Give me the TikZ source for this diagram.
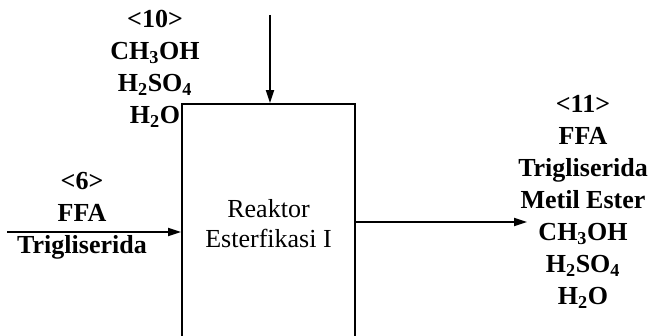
\documentclass[tikz,border=0pt]{standalone}
\usepackage{fontspec}
\setmainfont{Liberation Serif}
\usetikzlibrary{arrows.meta,positioning}

\begin{document}
\begin{tikzpicture}[
    x=1pt, y=-1pt,
    unit/.style={draw, line width=1.8pt, align=center, inner sep=0pt,
      minimum width=173pt, minimum height=240pt,
      font=\fontsize{26}{30}\selectfont},
    stream/.style={align=center, inner sep=0pt, anchor=north,
      font=\fontsize{26}{32}\selectfont\bfseries},
    flow/.style={line width=1.8pt, -{Triangle[length=13pt,width=8pt]}}
  ]
    \useasboundingbox (0,0) rectangle (651,336);
    \clip (0,0) rectangle (651,336);

    \node[unit] (reaktor) at (268.5,224) {Reaktor\\Esterfikasi I};

    \coordinate (feed10) at (270,15);
    \coordinate (feed6) at (7,232);
    \coordinate (prod11) at (527,222);

    \node[stream] (s10) at (155,10.5) {<10>\\CH\textsubscript{3}OH\\H\textsubscript{2}SO\textsubscript{4}\\H\textsubscript{2}O};
    \node[stream] (s6) at (82,172.5) {<6>\\FFA\\Trigliserida};
    \node[stream] (s11) at (583,95.5) {<11>\\FFA\\Trigliserida\\Metil Ester\\CH\textsubscript{3}OH\\H\textsubscript{2}SO\textsubscript{4}\\H\textsubscript{2}O};

    \draw[flow] (feed10) -- (feed10 |- reaktor.north);
    \draw[flow] (feed6) -- (feed6 -| reaktor.west);
    \draw[flow] (reaktor.east |- prod11) -- (prod11);
  \end{tikzpicture}
\end{document}
